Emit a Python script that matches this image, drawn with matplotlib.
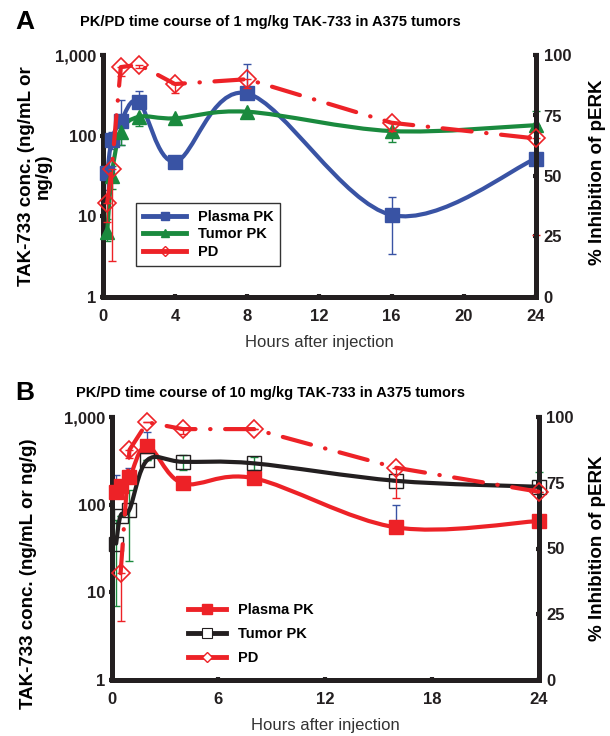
import matplotlib.pyplot as plt
import numpy as np
from matplotlib.path import Path
from matplotlib.patches import PathPatch
from matplotlib.lines import Line2D
from matplotlib.ticker import FixedLocator, FuncFormatter

plt.rcParams['font.family'] = ['Liberation Sans', 'DejaVu Sans']

# ---- Panel A: 1 mg/kg ----
hours_A = [0.25, 0.5, 1, 2, 4, 8, 16, 24]
plasma_A = [34, 88, 150, 262, 47.5, 334, 10.4, 52]
plasma_A_lo = [13, 20, 74, 0, 0, 0, 7, 0]
plasma_A_hi = [0, 24, 125, 98, 0, 437, 7.1, 0]
tumor_A = [6.4, 32, 112, 171, 164, 198, 114, 135]
tumor_A_lo = [1.5, 10, 36, 40, 0, 0, 30, 0]
tumor_A_hi = [3, 10, 23, 0, 0, 0, 0, 70]
pd_hours_A = [0.25, 0.5, 1, 2, 4, 8, 16, 24]
pd_A = [39, 53, 95, 96, 88, 90, 72, 65.5]
pd_A_lo = [8, 38, 3.5, 1.5, 3.7, 3.5, 3.6, 40]

# ---- Panel B: 10 mg/kg ----
hours_B = [0.25, 0.5, 1, 2, 4, 8, 16, 24]
plasma_B = [140, 165, 205, 470, 175, 200, 55, 65]
plasma_B_lo = [0, 0, 0, 0, 20, 0, 0, 0]
plasma_B_hi = [77, 0, 60, 210, 0, 0, 44, 0]
tumor_B = [36, 75, 88, 322, 308, 296, 187, 160]
tumor_B_lo = [29, 0, 65, 0, 60, 50, 0, 0]
tumor_B_hi = [31, 0, 59, 0, 60, 50, 0, 77]
pd_hours_B = [0.5, 1, 2, 4, 8, 16, 24]
pd_B = [40.6, 87.5, 98, 95.4, 95.4, 80.7, 71.6]
pd_B_lo = [18, 3, 0, 2, 0, 11.4, 0]

blue = '#3953a4'
green = '#1a8a3e'
red = '#ed2227'
black = '#231f20'
pd_dash = (0, (7, 3.5, 0.1, 3.5))


def smooth_curve(ax, x, y, color, lw=3.0):
    # Excel-style smoothed line: Catmull-Rom bezier in (x, log10 y) space
    x = np.asarray(x, float)
    ly = np.log10(np.asarray(y, float))
    n = len(x)
    verts = [(x[0], ly[0])]
    codes = [Path.MOVETO]
    for i in range(n - 1):
        i0 = max(i - 1, 0)
        i3 = min(i + 2, n - 1)
        c1 = (x[i] + (x[i + 1] - x[i0]) / 6, ly[i] + (ly[i + 1] - ly[i0]) / 6)
        c2 = (x[i + 1] - (x[i3] - x[i]) / 6, ly[i + 1] - (ly[i3] - ly[i]) / 6)
        verts += [c1, c2, (x[i + 1], ly[i + 1])]
        codes += [Path.CURVE4] * 3
    verts = np.array(verts)
    verts[:, 1] = 10 ** verts[:, 1]
    patch = PathPatch(Path(verts, codes), fill=False, edgecolor=color,
                      lw=lw, capstyle='round', joinstyle='round', zorder=3)
    patch.set_clip_on(False)
    ax.add_patch(patch)


def style_axes(ax, ax2, xticks):
    ax.set_yscale('log')
    ax.set_ylim(1, 1000)
    ax.set_xlim(0, 24)
    ax2.set_ylim(0, 100)
    for a in (ax, ax2):
        a.spines['top'].set_visible(False)
    ax.spines['right'].set_visible(False)
    ax2.spines['left'].set_visible(False)
    ax2.spines['bottom'].set_visible(False)
    for sp in ('left', 'bottom'):
        ax.spines[sp].set_linewidth(3.6)
        ax.spines[sp].set_color(black)
    ax2.spines['right'].set_linewidth(3.6)
    ax2.spines['right'].set_color(black)
    ax.yaxis.set_major_locator(FixedLocator([1, 10, 100, 1000]))
    ax.yaxis.set_minor_locator(FixedLocator([]))
    ax.yaxis.set_major_formatter(FuncFormatter(lambda v, p: f'{int(v):,}'))
    ax.set_xticks(xticks)
    ax2.set_yticks([0, 25, 50, 75, 100])
    for a in (ax, ax2):
        a.tick_params(direction='inout', length=5, width=3, color=black,
                      labelsize=12, pad=2, labelcolor=black)
        for lab in a.get_xticklabels() + a.get_yticklabels():
            lab.set_fontweight('bold')
    ax.tick_params(axis='x', pad=6)
    ax2.tick_params(axis='y', pad=3)
    ax.set_xlabel('Hours after injection', fontsize=12, color='#333333',
                  labelpad=8)


def draw_panel(fig, rect, hours, plasma, plo, phi, tumor, tlo, thi,
               pd_h, pd_v, pd_lo, colors, xticks):
    pcol, tcol, dcol, perr, terr = colors
    ax = fig.add_axes(rect)
    ax2 = ax.twinx()
    style_axes(ax, ax2, xticks)
    ax.errorbar(hours, plasma, yerr=[plo, phi], fmt='none', ecolor=perr,
                elinewidth=1, capsize=3, capthick=1, zorder=2, clip_on=False)
    ax.errorbar(hours, tumor, yerr=[tlo, thi], fmt='none', ecolor=terr,
                elinewidth=1, capsize=3, capthick=1, zorder=2, clip_on=False)
    ax2.errorbar(pd_h, pd_v, yerr=[pd_lo, np.zeros(len(pd_lo))], fmt='none',
                 ecolor=dcol, elinewidth=1, capsize=3, capthick=1, zorder=2,
                 clip_on=False)
    smooth_curve(ax, hours, plasma, pcol)
    smooth_curve(ax, hours, tumor, tcol)
    ax.plot(hours, plasma, ls='none', marker='s', ms=10, color=pcol,
            zorder=4, clip_on=False)
    return ax, ax2


fig = plt.figure(figsize=(6.10, 7.36), dpi=100)

# Panel A
rectA = [102.7 / 610, 1 - 297 / 736, 433.3 / 610, 242 / 736]
axA, axA2 = draw_panel(fig, rectA, hours_A, plasma_A, plasma_A_lo, plasma_A_hi,
                       tumor_A, tumor_A_lo, tumor_A_hi, pd_hours_A, pd_A,
                       pd_A_lo, (blue, green, red, blue, green),
                       [0, 4, 8, 12, 16, 20, 24])
axA.plot(hours_A, tumor_A, ls='none', marker='^', ms=10, color=green,
         zorder=4, clip_on=False)
axA2.plot(pd_hours_A, pd_A, color=red, lw=3, ls=pd_dash,
          dash_capstyle='round', marker='D', ms=9, mfc='none', mec=red,
          mew=1.2, zorder=5, clip_on=False)
handlesA = [
    Line2D([], [], color=blue, lw=3.5, marker='s', ms=6),
    Line2D([], [], color=green, lw=3.5, marker='^', ms=6),
    Line2D([], [], color=red, lw=3.5, marker='D', ms=5, mfc='none', mec=red),
]
legA = axA.legend(handlesA, ['Plasma PK', 'Tumor PK', 'PD'], loc='upper left',
                  bbox_to_anchor=(0.077, 0.388), borderaxespad=0,
                  handlelength=3.0, handletextpad=0.8, labelspacing=0.25,
                  fancybox=False, edgecolor='#333333', framealpha=1,
                  prop={'weight': 'bold', 'size': 10.5}, borderpad=0.45)
legA.get_frame().set_linewidth(1)
legA.set_zorder(10)

# Panel B
rectB = [111.7 / 610, 1 - 680 / 736, 426.8 / 610, 263 / 736]
axB, axB2 = draw_panel(fig, rectB, hours_B, plasma_B, plasma_B_lo, plasma_B_hi,
                       tumor_B, tumor_B_lo, tumor_B_hi, pd_hours_B, pd_B,
                       pd_B_lo, (red, black, red, blue, green),
                       [0, 6, 12, 18, 24])
axB.plot(hours_B, tumor_B, ls='none', marker='s', ms=10, mfc='none',
         mec=black, mew=1.0, zorder=4, clip_on=False)
axB2.plot(pd_hours_B, pd_B, color=red, lw=3, ls=pd_dash,
          dash_capstyle='round', marker='D', ms=9, mfc='none', mec=red,
          mew=1.2, zorder=5, clip_on=False)
handlesB = [
    Line2D([], [], color=red, lw=3.5, marker='s', ms=7),
    Line2D([], [], color=black, lw=3.5, marker='s', ms=7, mfc='white',
           mec=black, mew=0.8),
    Line2D([], [], color=red, lw=3.5, marker='D', ms=5, mfc='white', mec=red),
]
legB = axB.legend(handlesB, ['Plasma PK', 'Tumor PK', 'PD'], loc='upper left',
                  bbox_to_anchor=(0.165, 0.315), borderaxespad=0,
                  handlelength=2.6, handletextpad=0.8, labelspacing=0.7,
                  frameon=False, prop={'weight': 'bold', 'size': 10.5})

# Titles, panel letters and axis labels
fig.text(25 / 610, 1 - 22 / 736, 'A', fontsize=19, fontweight='bold',
         ha='center', va='center')
fig.text(270 / 610, 1 - 22 / 736,
         'PK/PD time course of 1 mg/kg TAK-733 in A375 tumors',
         fontsize=10.5, fontweight='bold', ha='center', va='center')
fig.text(25 / 610, 1 - 393 / 736, 'B', fontsize=19, fontweight='bold',
         ha='center', va='center')
fig.text(271 / 610, 1 - 393 / 736,
         'PK/PD time course of 10 mg/kg TAK-733 in A375 tumors',
         fontsize=10.5, fontweight='bold', ha='center', va='center')

fig.text(35 / 610, 1 - 176 / 736, 'TAK-733 conc. (ng/mL or\nng/g)',
         rotation=90, fontsize=13.5, fontweight='bold', ha='center',
         va='center', multialignment='center', linespacing=0.95)
fig.text(29 / 610, 1 - 574 / 736, 'TAK-733 conc. (ng/mL or ng/g)',
         rotation=90, fontsize=13.5, fontweight='bold', ha='center',
         va='center')
fig.text(597 / 610, 1 - 172 / 736, '% Inhibition of pERK', rotation=90,
         fontsize=13.5, fontweight='bold', ha='center', va='center')
fig.text(597 / 610, 1 - 548 / 736, '% Inhibition of pERK', rotation=90,
         fontsize=13.5, fontweight='bold', ha='center', va='center')

fig.savefig('out.png', dpi=100)
